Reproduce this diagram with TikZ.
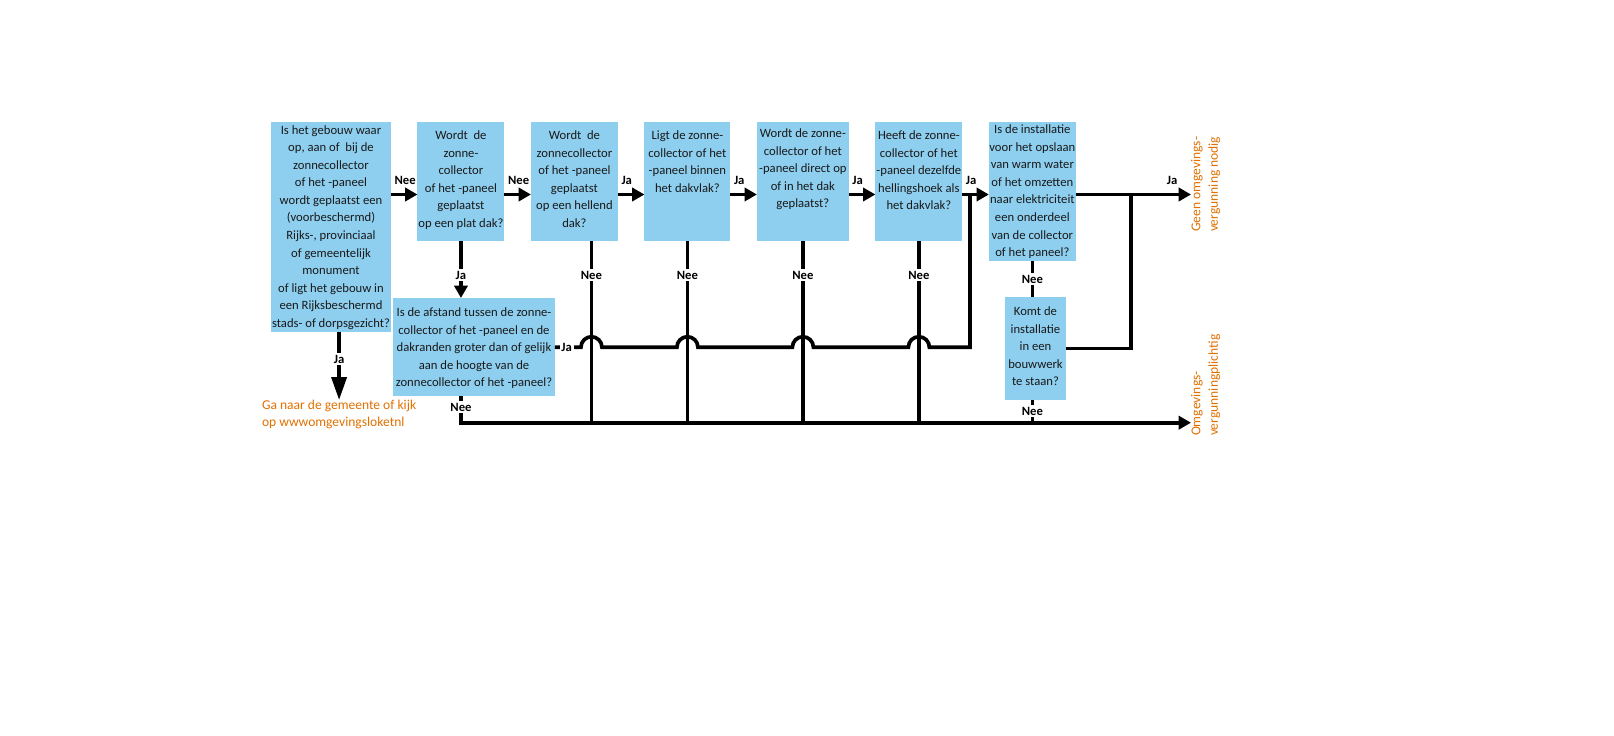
\documentclass[tikz,border=0pt]{standalone}
\usepackage{fontspec}
\setmainfont{Carlito}
\usetikzlibrary{arrows.meta, positioning}
\definecolor{vakblauw}{RGB}{142,207,240}
\definecolor{uitoranje}{RGB}{225,112,0}
\newcommand{\vakfont}{\fontsize{7.2}{10}\selectfont}
\newcommand{\uitfont}{\fontsize{7.7}{10}\selectfont}

\begin{document}
\begin{tikzpicture}[x=0.02cm, y=-0.02cm, >={Triangle[length=7pt,width=7.5pt]},
                    line width=2.1pt, node distance=0.53cm,
                    vaktekst/.style={anchor=north, align=center, font=\vakfont,
                                     text=black!90, inner sep=0pt, yshift=#1},
                    vaktekst/.default=-0.14cm]
  \tikzstyle{vak}=[fill=vakblauw, inner sep=0pt, outer sep=0pt, anchor=north west]
  \tikzstyle{lab}=[font=\vakfont\bfseries, inner sep=1pt]
  \tikzstyle{boven}=[lab, anchor=south west, pos=0, yshift=0.13cm]
  \tikzstyle{op}=[lab, fill=white]
  \tikzstyle{uit}=[font=\uitfont, text=uitoranje, align=left, inner sep=0pt, outer sep=0pt,
                   anchor=north west]

  \useasboundingbox (0,0) rectangle (1614,736);

  % vragen
  \node[vak, minimum width=2.4cm, minimum height=4.2cm,
        label={[vaktekst=-0.03cm]north:{Is het gebouw waar\\op, aan of\ \ bij de\\zonnecollector\\of het -paneel\\wordt geplaatst een\\(voorbeschermd)\\Rijks-, provinciaal\\of gemeentelijk\\monument\\of ligt het gebouw in\\een Rijksbeschermd\\stads- of dorpsgezicht?}}]
        (monument) at (271,122) {};
  \node[vak, right=of monument.north east, anchor=north west, minimum width=1.74cm, minimum height=2.39cm,
        label={[vaktekst]north:{Wordt\ \ de\\zonne-\\collector\\of het -paneel\\geplaatst\\op een plat dak?}}]
        (plat) {};
  \node[vak, right=of plat.north east, anchor=north west, minimum width=1.74cm, minimum height=2.39cm,
        label={[vaktekst]north:{Wordt\ \ de\\zonnecollector\\of het -paneel\\geplaatst\\op een hellend\\dak?}}]
        (hellend) {};
  \node[vak, right=of hellend.north east, anchor=north west, minimum width=1.72cm, minimum height=2.39cm,
        label={[vaktekst]north:{Ligt de zonne-\\collector of het\\-paneel binnen\\het dakvlak?}}]
        (dakvlak) {};
  \node[vak, right=of dakvlak.north east, anchor=north west, minimum width=1.84cm, minimum height=2.39cm,
        label={[vaktekst=-0.1cm]north:{Wordt de zonne-\\collector of het\\-paneel direct op\\of in het dak\\geplaatst?}}]
        (direct) {};
  \node[vak, right=of direct.north east, anchor=north west, minimum width=1.74cm, minimum height=2.39cm,
        label={[vaktekst]north:{Heeft de zonne-\\collector of het\\-paneel dezelfde\\hellingshoek als\\het dakvlak?}}]
        (helling) {};
  \node[vak, right=of helling.north east, anchor=north west, minimum width=1.74cm, minimum height=2.78cm,
        label={[vaktekst=-0.02cm]north:{Is de installatie\\voor het opslaan\\van warm water\\of het omzetten\\naar elektriciteit\\een onderdeel\\van de collector\\of het paneel?}}]
        (opslag) {};
  \node[vak, minimum width=1.22cm, minimum height=2.06cm,
        label={[vaktekst=-0.16cm]north:{Komt de\\installatie\\in een\\bouwwerk\\te staan?}}]
        (bouwwerk) at (1005,297) {};
  \node[vak, minimum width=3.24cm, minimum height=1.97cm,
        label={[vaktekst=-0.16cm]north:{Is de afstand tussen de zonne-\\collector of het -paneel en de\\dakranden groter dan of gelijk\\aan de hoogte van de\\zonnecollector of het -paneel?}}]
        (afstand) at (393,298) {};

  % uitkomsten
  \node[uit] (gemeente) at (262,400) {Ga naar de gemeente of kijk\\op wwwomgevingsloketnl};
  \node[uit, rotate=90] (geen) at (1191,232) {Geen omgevings-\\vergunning nodig};
  \node[uit, rotate=90] (plicht) at (1191,436) {Omgevings-\\vergunningplichtig};

  \coordinate (rij) at (0,194.5);
  \coordinate (neerij) at (0,422.7);
  \coordinate (samen) at (970,194.5);
  \coordinate (splits) at (1131,194.5);
  \coordinate (hellend-x) at ([xshift=0.34cm]hellend.south);

  \draw[->] (monument.east |- rij) -- node[boven] {Nee} (plat.west |- rij);
  \draw[->] (plat.east |- rij) -- node[boven] {Nee} (hellend.west |- rij);
  \draw[->] (hellend.east |- rij) -- node[boven] {Ja} (dakvlak.west |- rij);
  \draw[->] (dakvlak.east |- rij) -- node[boven] {Ja} (direct.west |- rij);
  \draw[->] (direct.east |- rij) -- node[boven] {Ja} (helling.west |- rij);
  \draw[->] (helling.east |- rij) -- node[boven] {Ja} (opslag.west |- rij);
  \draw[->] (opslag.east |- rij) -- node[lab, anchor=south east, pos=1, xshift=-0.2cm, yshift=0.13cm] {Ja}
            (geen.north west |- rij);

  \draw[-{Triangle[length=13pt,width=8.5pt]}] (monument.south -| gemeente.north)
            -- node[op, pos=.4] {Ja} (gemeente.north);
  \draw[->] (plat.south) -- node[op, pos=.6] {Ja} (plat.south |- afstand.north);

  \foreach \v in {hellend-x, dakvlak.south, direct.south, helling.south}
    \draw (\v) -- node[op, pos=.185] {Nee} (\v |- neerij);

  \draw[->] (plat.south |- afstand.south) -- node[op, pos=.4] {Nee} (plat.south |- neerij)
            -- (plicht.north west |- neerij);
  \draw (opslag.south) -- node[op] {Nee} (opslag.south |- bouwwerk.north);
  \draw (opslag.south |- bouwwerk.south) -- node[op] {Nee} (opslag.south |- neerij);
  \draw (bouwwerk.east) -| (splits);

  % Ja-lijn met bruggetjes
  \draw (afstand.east) -- node[op, pos=.45] {Ja} ([xshift=-0.21cm]hellend-x |- afstand.east)
        arc[start angle=180, end angle=0, radius=0.21cm]
        -- ([xshift=-0.21cm]dakvlak.south |- afstand.east)
        arc[start angle=180, end angle=0, radius=0.21cm]
        -- ([xshift=-0.21cm]direct.south |- afstand.east)
        arc[start angle=180, end angle=0, radius=0.21cm]
        -- ([xshift=-0.21cm]helling.south |- afstand.east)
        arc[start angle=180, end angle=0, radius=0.21cm]
        -- (samen |- afstand.east) -- (samen);
\end{tikzpicture}
\end{document}
